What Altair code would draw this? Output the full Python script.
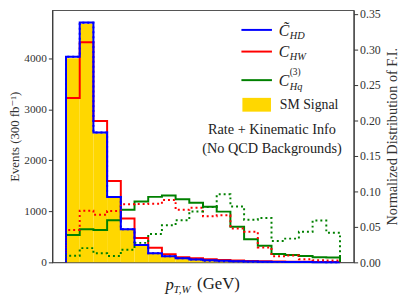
import altair as alt
import pandas as pd

# ---- data ----
bin_edges = [0, 50, 100, 150, 200, 250, 300, 350, 400, 450, 500,
             550, 600, 650, 700, 750, 800, 850, 900, 950, 1000]

sm_signal = [4000, 4680, 2530, 1270, 640, 330, 172, 116, 78, 52,
             38, 28, 20, 15, 11, 8, 6, 5, 4, 3]
c_hd_events = [4030, 4700, 2544, 1280, 647, 338, 177, 120, 81, 54,
               40, 30, 22, 16, 12, 9, 7, 5, 4, 3]
c_hw_events = [3219, 4313, 2770, 1592, 859, 479, 286, 158, 100, 81,
               60, 45, 35, 25, 20, 15, 12, 10, 8, 6]
c_hq3_events = [536, 647, 633, 826, 1032, 1193, 1283, 1309, 1238, 1168,
                1090, 994, 698, 453, 324, 164, 145, 125, 100, 95]

c_hd_norm = [0.2894, 0.3375, 0.1827, 0.0919, 0.0465, 0.0243, 0.0127, 0.0086,
             0.0058, 0.0039, 0.0023, 0.0016, 0.0011, 0.0009, 0.0006, 0.0005,
             0.0004, 0.0004, 0.0003, 0.0002]
c_hw_norm = [0.0454, 0.0727, 0.0671, 0.0722, 0.0817, 0.0820, 0.0824, 0.0879,
             0.0740, 0.0768, 0.0648, 0.0662, 0.0475, 0.0432, 0.0210, 0.0086,
             0.0095, 0.0045, 0.0030, 0.0025]
c_hq3_norm = [0.0094, 0.0200, 0.0127, 0.0090, 0.0178, 0.0274, 0.0400, 0.0523,
              0.0593, 0.0717, 0.0780, 0.0958, 0.0786, 0.0600, 0.0625, 0.0300,
              0.0334, 0.0430, 0.0588, 0.0418]

left_ticks = [0, 1000, 2000, 3000, 4000]
right_ticks = [0.0, 0.05, 0.10, 0.15, 0.20, 0.25, 0.30, 0.35]
x_ticks = [0, 200, 400, 600, 800, 1000]

SERIF = "'Liberation Serif', 'Times New Roman', 'DejaVu Serif', serif"
BLUE, RED, GREEN, GOLD = "#0000ff", "#ff0000", "#008000", "#ffd700"
Y_LEFT_MAX = 4940
Y_RIGHT_MAX = 0.355


def step_frame(vals):
    rows = [{"x": bin_edges[0], "v": 0.0, "o": 0}]
    for i, v in enumerate(vals):
        rows.append({"x": bin_edges[i], "v": v, "o": i + 1})
    rows.append({"x": bin_edges[-1], "v": vals[-1], "o": len(vals) + 1})
    rows.append({"x": bin_edges[-1], "v": 0.0, "o": len(vals) + 2})
    return pd.DataFrame(rows)


xscale = alt.Scale(domain=[-50, 1050], nice=False, zero=False)
yl = alt.Scale(domain=[0, Y_LEFT_MAX], nice=False)
yr = alt.Scale(domain=[0, Y_RIGHT_MAX], nice=False)

sm_df = pd.DataFrame({"x0": bin_edges[:-1], "x1": bin_edges[1:],
                      "v": sm_signal, "base": [0] * len(sm_signal)})

gold = alt.Chart(sm_df).mark_rect(color=GOLD).encode(
    x=alt.X("x0:Q", scale=xscale,
            axis=alt.Axis(values=x_ticks, title=None, labelPadding=3, format="d")),
    x2="x1:Q",
    y=alt.Y("v:Q", scale=yl,
            axis=alt.Axis(values=left_ticks, orient="left", format="d",
                          labelFontSize=11.5,
                          title="Events (300 fb\u207b\u00b9)", titlePadding=2,
                          titleFontSize=13)),
    y2="base:Q",
)


def solid(vals, color):
    return alt.Chart(step_frame(vals)).mark_line(
        color=color, strokeWidth=2, interpolate="step-after").encode(
        x=alt.X("x:Q", scale=xscale, axis=None),
        y=alt.Y("v:Q", scale=yl, axis=None),
        order="o:Q",
    )


def dotted(vals, color, axis=None):
    return alt.Chart(step_frame(vals)).mark_line(
        color=color, strokeWidth=2, strokeDash=[2, 3],
        interpolate="step-after").encode(
        x=alt.X("x:Q", scale=xscale, axis=None),
        y=alt.Y("v:Q", scale=yr, axis=axis),
        order="o:Q",
    )


right_axis = alt.Axis(values=right_ticks, orient="right", format=".2f",
                      title="Normalized Distribution of F.I.",
                      titleAngle=270, titleBaseline="top", titlePadding=5,
                      titleFontSize=14.5)

one = pd.DataFrame({"a": [0]})


def txt(s, x, y, size=13, italic=False, align="left"):
    kw = dict(font=SERIF, fontSize=size, align=align, baseline="middle",
              color="#222")
    if italic:
        kw["fontStyle"] = "italic"
    return alt.Chart(one).mark_text(**kw).encode(
        x=alt.value(x), y=alt.value(y), text=alt.value(s))


def legline(color, y):
    return alt.Chart(one).mark_rule(color=color, strokeWidth=2).encode(
        x=alt.value(192), x2=alt.value(223), y=alt.value(y))


legend_layers = [
    legline(BLUE, 20), txt("C\u0303", 230, 21, 16, True), txt("HD", 241, 26, 10.5, True),
    legline(RED, 42), txt("C", 230, 43, 16, True), txt("HW", 241, 48, 10.5, True),
    legline(GREEN, 71), txt("C", 230, 72, 16, True), txt("(3)", 241, 63, 9.5),
    txt("Hq", 241, 78, 10.5, True),
    alt.Chart(one).mark_rect(color=GOLD).encode(
        x=alt.value(193), x2=alt.value(222), y=alt.value(89), y2=alt.value(103)),
    txt("SM Signal", 231, 96, 14),
    txt("Rate + Kinematic Info", 223, 122, 14.5, align="center"),
    txt("(No QCD Backgrounds)", 223, 141, 14.5, align="center"),
    # x-axis title p_{T,W} (GeV)
    txt("p", 115, 279, 17, True), txt("T,W", 123, 284, 11, True),
    txt("(GeV)", 147, 278, 17),
]

chart = alt.layer(
    gold,
    solid(c_hq3_events, GREEN),
    solid(c_hw_events, RED),
    solid(c_hd_events, BLUE),
    dotted(c_hw_norm, RED, right_axis),
    dotted(c_hq3_norm, GREEN),
    dotted(c_hd_norm, BLUE),
    *legend_layers,
).resolve_scale(y="independent").properties(
    width=306, height=256,
    autosize=alt.AutoSizeParams(type="none"),
    padding={"left": 45, "top": 0, "right": 46, "bottom": 37},
).configure_view(
    stroke="#555", strokeWidth=1.2
).configure_axis(
    labelFont=SERIF, labelFontSize=12, labelColor="#333",
    titleFont=SERIF, titleFontSize=14, titleFontWeight="normal", titleColor="#333",
    tickColor="#333", domainColor="#333", tickSize=4, grid=False,
)

chart.save("out.html", embed_options={"renderer": "svg", "actions": False})
